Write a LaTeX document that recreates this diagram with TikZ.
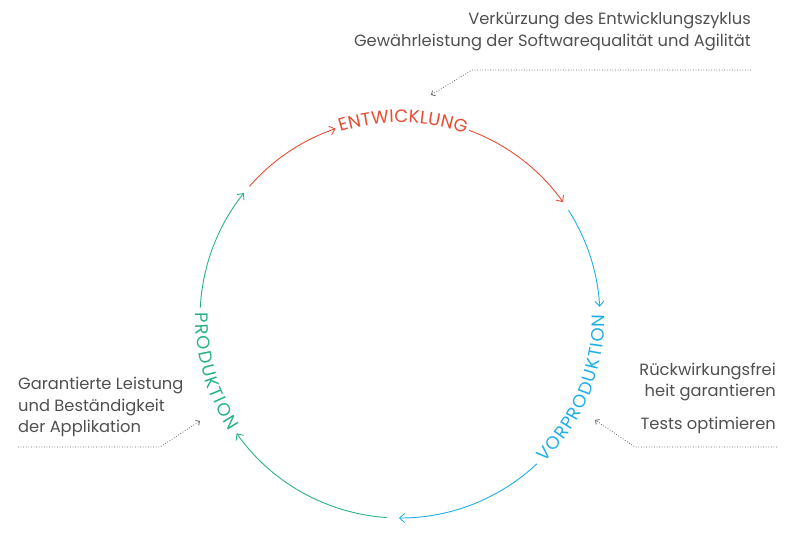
\documentclass[tikz,border=0pt]{standalone}
\usepackage{fontspec}
\setmainfont{Poppins}
\usetikzlibrary{arrows.meta,decorations.text}
\definecolor{cred}{RGB}{232,76,52}
\definecolor{cblue}{RGB}{30,174,232}
\definecolor{cgreen}{RGB}{40,178,138}
\definecolor{ctext}{RGB}{80,80,80}
\definecolor{cdot}{RGB}{100,100,100}
\newcommand{\lblfont}{\fontsize{18bp}{18bp}\selectfont}
\begin{document}
\begin{tikzpicture}[x=1bp,y=1bp,
  cyc/.style={line width=0.9bp, -{Straight Barb[length=5bp,width=9bp]}},
  note/.style={text=ctext, font=\fontsize{16.3bp}{19bp}\selectfont, inner sep=0pt},
  pointer/.style={cdot, line width=0.8bp, dash pattern={on 0.8bp off 1.8bp}, -{Straight Barb[length=3bp,width=6bp]}},
  lbl/.style={decorate, decoration={text along path, text align=fit to path, raise=-4.5bp}}
]
\useasboundingbox (0,0) rectangle (792,536);
\coordinate (C) at (400,218);
% cycle arcs
\draw[cyc,cred] ([shift={(138.8:200)}]C) arc[start angle=138.8,end angle=108.8,radius=200bp];
\draw[cyc,cred] ([shift={(69.8:200)}]C) arc[start angle=69.8,end angle=35.4,radius=200bp];
\draw[cyc,cblue] ([shift={(32.6:200)}]C) arc[start angle=32.6,end angle=3.2,radius=200bp];
\draw[cyc,cblue] ([shift={(-46.8:200)}]C) arc[start angle=-46.8,end angle=-90.3,radius=200bp];
\draw[cyc,cgreen] ([shift={(-93.8:200)}]C) arc[start angle=-93.8,end angle=-144.8,radius=200bp];
\draw[cyc,cgreen] ([shift={(177:200)}]C) arc[start angle=177,end angle=141.3,radius=200bp];
% labels along the circle
\path[lbl, decoration={text={|\lblfont\color{cred}|ENTWICKLUNG}}] ([shift={(107.7:200)}]C) arc[start angle=107.7,end angle=70.5,radius=200bp];
\path[lbl, decoration={text={|\lblfont\color{cblue}|VORPRODUKTION}}] ([shift={(-45:200)}]C) arc[start angle=-45,end angle=1,radius=200bp];
\path[lbl, decoration={text={|\lblfont\color{cgreen}|PRODUKTION}}] ([shift={(178.5:200)}]C) arc[start angle=178.5,end angle=213.5,radius=200bp];
% notes
\node[note, anchor=base east] (topA) at (751,511) {Verkürzung des Entwicklungszyklus};
\node[note, anchor=base east] (topB) at (751,489) {Gewährleistung der Softwarequalität und Agilität};
\node[note, anchor=base west] (leftA) at (18,146) {Garantierte Leistung};
\node[note, anchor=base west] (leftB) at (18,124) {und Beständigkeit};
\node[note, anchor=base west] (leftC) at (18,103) {der Applikation};
\node[note, anchor=base east] (rightA) at (776,160) {Rückwirkungsfrei};
\node[note, anchor=base east] (rightB) at (776,139) {heit garantieren};
\node[note, anchor=base east] (rightC) at (776,106) {Tests optimieren};
% pointers
\coordinate (tp1) at (751,466); \coordinate (tp2) at (472,466); \coordinate (tp3) at (431,441);
\draw[pointer] (tp1) -- (tp2) -- (tp3);
\coordinate (lp1) at (18,89); \coordinate (lp2) at (160,89); \coordinate (lp3) at (200,115);
\draw[pointer] (lp1) -- (lp2) -- (lp3);
\coordinate (rp1) at (777,89); \coordinate (rp2) at (635,89); \coordinate (rp3) at (595,116);
\draw[pointer] (rp1) -- (rp2) -- (rp3);
\end{tikzpicture}
\end{document}
